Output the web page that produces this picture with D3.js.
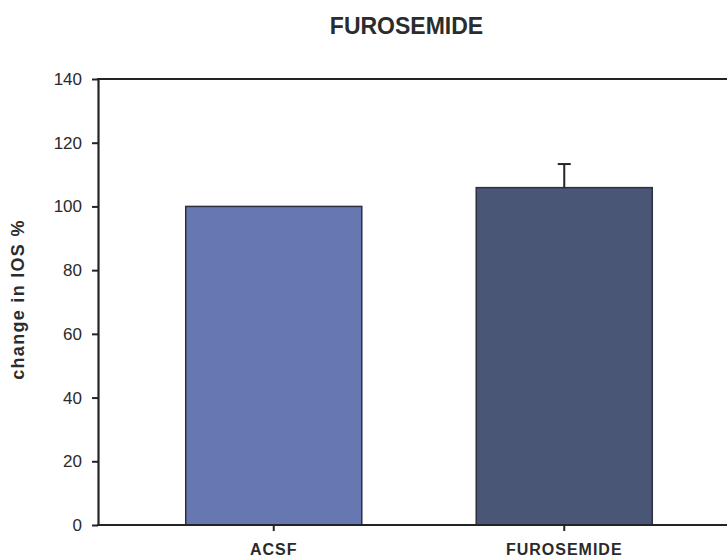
<!DOCTYPE html>
<html>
<head>
<meta charset="utf-8">
<script src="https://cdn.jsdelivr.net/npm/d3@7"></script>
<style>
  html, body { margin: 0; padding: 0; background: #fff; }
  svg { display: block; }
  text { font-family: "Liberation Sans", Arial, sans-serif; }
</style>
</head>
<body>
<svg id="chart" width="727" height="559"></svg>
<script>
const categories = ["ACSF", "FUROSEMIDE"];
const values = [100, 105.9];
const errors = [null, 7.4];
const barColors = ["#6677b2", "#4a5676"];
const yTicks = [0, 20, 40, 60, 80, 100, 120, 140];
const titleText = "FUROSEMIDE";
const yLabel = "change in IOS %";

(function () {
const svg = d3.select("#chart");
const W = 727;
const plotLeft = 98, plotTop = 79, plotBottom = 525;

const y = d3.scaleLinear().domain([0, 140]).range([plotBottom, plotTop]);
const x = d3.scaleBand().domain(categories).range([plotLeft, 740])
  .paddingInner(0.394).paddingOuter(0.302);

const axisColor = "#222426";

// bars
svg.append("g").selectAll("rect").data(categories).join("rect")
  .attr("x", d => x(d))
  .attr("y", (d, i) => y(values[i]))
  .attr("width", x.bandwidth())
  .attr("height", (d, i) => y(0) - y(values[i]))
  .attr("fill", (d, i) => barColors[i])
  .attr("stroke", "#2c3142")
  .attr("stroke-width", 1.5);

// error bars
const eg = svg.append("g").attr("stroke", axisColor).attr("stroke-width", 2);
categories.forEach((c, i) => {
  if (errors[i] == null) return;
  const cx = x(c) + x.bandwidth() / 2;
  const t1 = y(values[i] + errors[i]);
  eg.append("line").attr("x1", cx).attr("x2", cx)
    .attr("y1", y(values[i])).attr("y2", t1);
  eg.append("line").attr("x1", cx - 6.5).attr("x2", cx + 6.5)
    .attr("y1", t1).attr("y2", t1);
});

// y axis
const yAxis = svg.append("g").attr("transform", `translate(${plotLeft},0)`)
  .call(d3.axisLeft(y).tickValues(yTicks).tickSize(6).tickPadding(10).tickSizeOuter(0));
yAxis.select(".domain").attr("stroke", axisColor).attr("stroke-width", 2.2);
yAxis.selectAll(".tick line").attr("stroke", axisColor).attr("stroke-width", 2);
yAxis.selectAll(".tick text").attr("font-size", 17).attr("fill", "#2a2a2a")
  .attr("font-family", "Liberation Sans, Arial, sans-serif");

// x axis
const xAxis = svg.append("g").attr("transform", `translate(0,${plotBottom})`)
  .call(d3.axisBottom(x).tickSize(6).tickPadding(13).tickSizeOuter(0));
xAxis.select(".domain").attr("stroke", axisColor).attr("stroke-width", 2.2)
  .attr("d", `M${plotLeft - 1},0H${W}`);
xAxis.selectAll(".tick line").attr("stroke", axisColor).attr("stroke-width", 2);
xAxis.selectAll(".tick text").attr("font-size", 16).attr("font-weight", "bold")
  .attr("fill", "#2a2a2a").attr("letter-spacing", "1px")
  .attr("font-family", "Liberation Sans, Arial, sans-serif");

// top border line
svg.append("line").attr("x1", plotLeft - 1).attr("x2", W)
  .attr("y1", y(140)).attr("y2", y(140))
  .attr("stroke", axisColor).attr("stroke-width", 2.2);

// title
svg.append("text").attr("x", 406.5).attr("y", 34)
  .attr("text-anchor", "middle").attr("font-size", 23).attr("font-weight", "bold")
  .attr("fill", "#2a2c2e").text(titleText);

// y label
svg.append("text")
  .attr("transform", `translate(24,${(219 + 380) / 2}) rotate(-90)`)
  .attr("text-anchor", "middle").attr("font-size", 18).attr("font-weight", "bold")
  .attr("letter-spacing", "1.3px")
  .attr("fill", "#2a2c2e").text(yLabel);
})();
</script>
</body>
</html>
